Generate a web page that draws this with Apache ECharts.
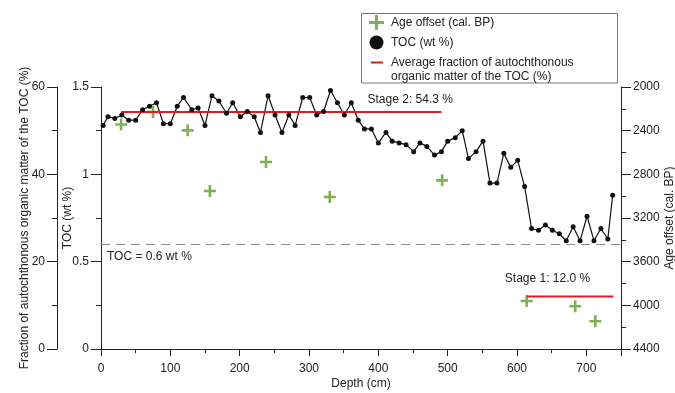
<!DOCTYPE html>
<html>
<head>
<meta charset="utf-8">
<script src="https://cdn.jsdelivr.net/npm/echarts@6/dist/echarts.min.js"></script>
<style>
  html, body { margin: 0; padding: 0; background: #fff; }
  #chart { width: 675px; height: 393px; }
</style>
</head>
<body>
<div id="chart"></div>
<script>
// TOC profile (depth in cm, TOC in wt %)
const tocDepth = [
  3, 10, 20, 30, 40, 50, 60, 70, 80, 90, 100, 110, 119, 131, 140, 150, 160, 170, 181, 190,
  201, 211, 221, 230, 241, 251, 261, 271, 280, 291, 301, 311, 321, 331, 341, 351, 361, 371, 380, 390,
  400, 411, 420, 430, 440, 451, 460, 470, 481, 491, 500, 511, 521, 530, 541, 551, 561, 571, 581, 591,
  601, 611, 621, 631, 641, 651, 661, 671, 681, 691, 701, 711, 721, 731, 738
];
const tocValue = [
  1.28, 1.33, 1.32, 1.34, 1.31, 1.31, 1.37, 1.39, 1.41, 1.29, 1.29, 1.39, 1.44, 1.37, 1.38, 1.28, 1.45, 1.42, 1.35, 1.41,
  1.33, 1.36, 1.33, 1.24, 1.45, 1.34, 1.24, 1.34, 1.28, 1.44, 1.44, 1.34, 1.36, 1.48, 1.41, 1.34, 1.41, 1.31, 1.26, 1.26,
  1.18, 1.24, 1.19, 1.18, 1.17, 1.13, 1.18, 1.16, 1.11, 1.13, 1.19, 1.21, 1.25, 1.09, 1.13, 1.19, 0.95, 0.95, 1.12, 1.04,
  1.08, 0.93, 0.69, 0.68, 0.71, 0.68, 0.66, 0.62, 0.70, 0.62, 0.76, 0.62, 0.69, 0.63, 0.88
];

// age offset samples (cal. BP)
const ageDepth = [29, 75, 125, 157, 238, 330, 492, 614, 684, 713];
const ageValue = [2344, 2229, 2397, 2953, 2687, 3008, 2855, 3960, 4009, 4146];

// average autochthonous fraction per stage (%)
const stageNames = ["Stage 2", "Stage 1"];
const stageMean = [54.3, 12.0];
const stageStart = [29, 614];
const stageEnd = [491, 739];
const stageLabelAt = [[446, 57.2], [644, 16.2]];

const tocThreshold = 0.6;

const FONT = "'Liberation Sans', Arial, sans-serif";
const INK = "#222";
const GREEN = "#5f9c2c";
const RED = "#e11b22";
const AVG_NAME = "Average fraction of autochthonous";

const crossIcon = "path://M0,0M18,15M7,0H10V6H16V9H10V15H7V9H1V6H7Z";
const dotIcon = "path://M0,0M18,15M1.5,7.5A7,7 0 1 1 15.5,7.5A7,7 0 1 1 1.5,7.5Z";
const lineIcon = "path://M0,0M18,15M3,6.5H15V8.5H3Z";
const crossSymbol = "path://M4.7,0H7.3V4.7H12V7.3H7.3V12H4.7V7.3H0V4.7H4.7Z";

const axisLine = { show: true, lineStyle: { color: INK, width: 1 } };

function yAxisBase(extra) {
  return Object.assign({
    type: "value",
    nameLocation: "middle",
    nameRotate: 90,
    nameMoveOverlap: false,
    nameTextStyle: { color: INK, fontSize: 12, fontFamily: FONT },
    axisLine,
    axisTick: { show: true, length: 10, lineStyle: { color: INK } },
    minorTick: { show: true, splitNumber: 2, length: 5, lineStyle: { color: INK } },
    axisLabel: { color: INK, fontSize: 12, fontFamily: FONT, margin: 12 },
    splitLine: { show: false },
    minorSplitLine: { show: false },
  }, extra);
}

const chart = echarts.init(document.getElementById("chart"), null, { renderer: "canvas" });

chart.setOption({
  animation: false,
  textStyle: { fontFamily: FONT },
  grid: { left: 101, right: 54, top: 87, bottom: 44, outerBoundsMode: "none", containLabel: false },
  legend: {
    orient: "vertical",
    left: 368,
    top: 15,
    padding: 0,
    itemWidth: 18,
    itemHeight: 15,
    itemGap: 5,
    selectedMode: false,
    textStyle: { color: INK, fontSize: 12, fontFamily: FONT },
    data: [
      { name: "Age offset (cal. BP)", icon: crossIcon },
      { name: "TOC (wt %)", icon: dotIcon },
      { name: AVG_NAME, icon: lineIcon },
    ],
  },
  graphic: [
    {
      type: "rect",
      shape: { x: 361.5, y: 13.5, width: 256, height: 69.5 },
      style: { fill: "none", stroke: "#777", lineWidth: 1 },
      silent: true,
    },
    {
      type: "text",
      x: 391,
      y: 77,
      style: { text: "organic matter of the TOC (%)", fill: INK, font: "12px " + FONT, verticalAlign: "middle" },
      silent: true,
    },
  ],
  xAxis: {
    type: "value",
    min: 0,
    max: 750,
    interval: 100,
    name: "Depth (cm)",
    nameLocation: "middle",
    nameGap: 29,
    nameMoveOverlap: false,
    nameTextStyle: { color: INK, fontSize: 12, fontFamily: FONT },
    axisLine,
    axisTick: { show: true, length: 7, lineStyle: { color: INK } },
    minorTick: { show: true, splitNumber: 2, length: 4, lineStyle: { color: INK } },
    axisLabel: { color: INK, fontSize: 12, fontFamily: FONT, margin: 14, showMaxLabel: false },
    splitLine: { show: false },
  },
  yAxis: [
    yAxisBase({ position: "left", offset: 0, min: 0, max: 1.5, interval: 0.5, name: "TOC (wt %)", nameGap: 27 }),
    yAxisBase({
      position: "left", offset: 44, min: 0, max: 60, interval: 20,
      name: "Fraction of autochthonous organic matter of the TOC (%)", nameGap: 26,
    }),
    yAxisBase({
      position: "right", offset: 0, min: 2000, max: 4400, interval: 400, inverse: true,
      name: "Age offset (cal. BP)", nameGap: 43,
      axisLabel: { color: INK, fontSize: 12, fontFamily: FONT, margin: 12, formatter: (v) => String(v) },
    }),
  ],
  series: [
    {
      name: "TOC (wt %)",
      type: "line",
      yAxisIndex: 0,
      data: tocDepth.map((d, i) => [d, tocValue[i]]),
      symbol: "circle",
      symbolSize: 5,
      showAllSymbol: true,
      itemStyle: { color: "#111" },
      lineStyle: { color: "#111", width: 1.2 },
      markLine: {
        silent: true,
        symbol: "none",
        lineStyle: { color: "#8a8a8a", type: [9, 6], width: 1 },
        label: {
          show: true,
          position: "insideStartBottom",
          formatter: "TOC = " + tocThreshold + " wt %",
          color: INK,
          fontSize: 12,
          fontFamily: FONT,
          distance: 6,
        },
        data: [{ yAxis: tocThreshold }],
      },
    },
    ...stageNames.map((s, i) => ({
      name: AVG_NAME,
      type: "line",
      yAxisIndex: 1,
      data: [[stageStart[i], stageMean[i]], [stageEnd[i], stageMean[i]]],
      symbol: "none",
      color: RED,
      itemStyle: { color: RED },
      lineStyle: { color: RED, width: 2 },
      markPoint: {
        silent: true,
        symbol: "circle",
        symbolSize: 1,
        itemStyle: { color: "rgba(0,0,0,0)" },
        label: {
          show: true,
          position: "inside",
          color: INK,
          fontSize: 12,
          fontFamily: FONT,
          formatter: s + ": " + stageMean[i].toFixed(1) + " %",
        },
        data: [{ coord: stageLabelAt[i] }],
      },
    })),
    {
      name: "Age offset (cal. BP)",
      type: "scatter",
      yAxisIndex: 2,
      data: ageDepth.map((d, i) => [d, ageValue[i]]),
      symbol: crossSymbol,
      symbolSize: 12,
      itemStyle: { color: GREEN },
    },
  ],
});
</script>
</body>
</html>
